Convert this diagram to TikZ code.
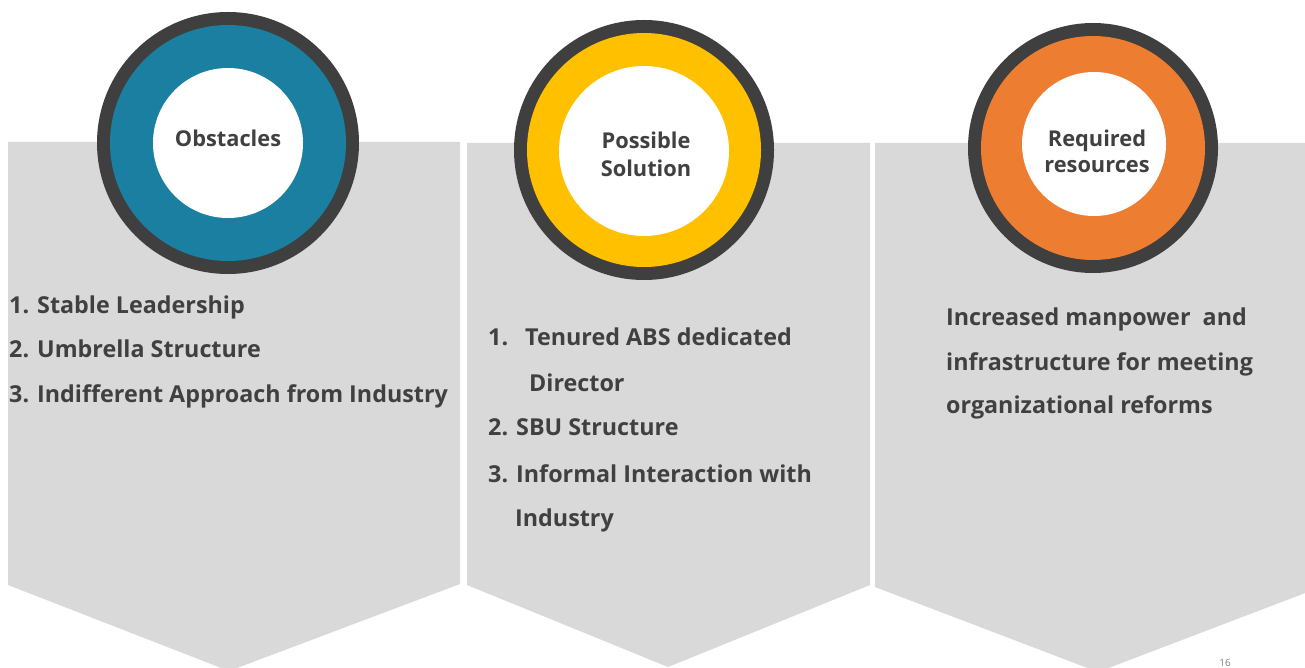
\documentclass[tikz,border=0pt]{standalone}
\usepackage{fontspec}
\setmainfont{Open Sans}
\definecolor{panelgray}{HTML}{D9D9D9}
\definecolor{ringdark}{HTML}{3F3F3F}
\definecolor{txt}{HTML}{404040}
\definecolor{teal}{HTML}{1A7FA0}
\definecolor{gold}{HTML}{FFC000}
\definecolor{orng}{HTML}{ED7D31}
\begin{document}
\begin{tikzpicture}[x=1pt,y=-1pt,
  panel/.style={fill=panelgray,draw=none},
  body/.style={text=txt,font=\fontsize{23.3}{27}\selectfont\bfseries,inner sep=0pt,anchor=base west},
  clabel/.style={text=txt,font=\fontsize{21.8}{28}\selectfont\bfseries,inner sep=0pt,anchor=base,align=center},
]
\useasboundingbox (0,0) rectangle (1305,668);
\fill[white] (0,0) rectangle (1305,668);
% panels
\fill[panel] (8,142) -- (460,142) -- (460,584) -- (229,671) -- (8,585) -- cycle;
\fill[panel] (467,143) -- (870,143) -- (870,585) -- (668,667) -- (467,585) -- cycle;
\fill[panel] (875,143) -- (1321,143) -- (1321,587) -- (1098,672) -- (875,587) -- cycle;
% circles
\fill[ringdark] (228,143) circle[radius=131];
\fill[teal] (228,143) circle[radius=118];
\fill[white] (228,143) circle[radius=75];
\fill[ringdark] (644,150) circle[radius=130];
\fill[gold] (644,150) circle[radius=117];
\fill[white] (644,151) circle[radius=85];
\fill[ringdark] (1093,148) circle[radius=125];
\fill[orng] (1093,148) circle[radius=112];
\fill[white] (1094,144) circle[radius=72];
% circle labels
\node[clabel] (c1) at (228,147) {Obstacles};
\node[clabel] (c2a) at (646,149) {Possible};
\node[clabel] (c2b) at (646,177) {Solution};
\node[clabel] (c3a) at (1097,147) {Required};
\node[clabel] (c3b) at (1097,173) {resources};
% panel 1 text
\node[body] (a1) at (9,313) {1. Stable Leadership};
\node[body] (a2) at (9,357) {2. Umbrella Structure};
\node[body] (a3) at (9,402) {3. Indifferent Approach from Industry};
% panel 2 text
\node[body] (b1) at (488,345) {1.};
\node[body] (b1t) at (525,345) {Tenured ABS dedicated};
\node[body] (b1d) at (529,391) {Director};
\node[body] (b2) at (488,435) {2. SBU Structure};
\node[body] (b3) at (488,482) {3. Informal Interaction with};
\node[body] (b3i) at (515,526) {Industry};
% panel 3 text
\node[body] (r1) at (946,325) {Increased manpower\ \ and};
\node[body] (r2) at (946,370) {infrastructure for meeting};
\node[body] (r3) at (946,413) {organizational reforms};
% page number
\node[text=gray,font=\fontsize{10}{12}\selectfont,inner sep=0pt,anchor=base] (pg) at (1225,666) {16};
\end{tikzpicture}
\end{document}
